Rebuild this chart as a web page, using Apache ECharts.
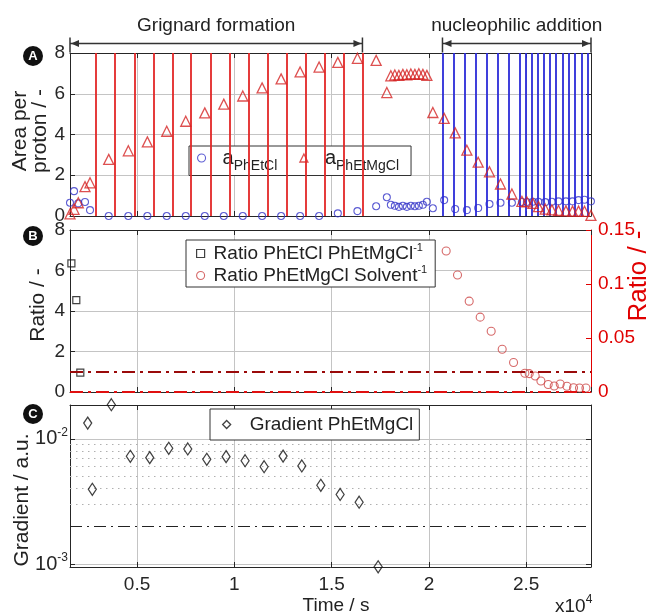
<!DOCTYPE html>
<html><head><meta charset="utf-8">
<script src="https://cdn.jsdelivr.net/npm/echarts@6/dist/echarts.min.js"></script>
<style>html,body{margin:0;padding:0;background:#fff}#c{width:646px;height:614px}</style>
</head><body><div id="c"></div>
<script>
// ---------------- data ----------------
const X_MIN = 1555, X_MAX = 28330;
// Panel A: sampling times (s) and areas per proton
const timeA = [1555,1761,1982,2326,2584,
  3545,4553,5530,6527,7504,8481,9458,10434,11427,12404,13380,14357,15319,16326,17288,
  17838,
  18044,18249,18455,18661,18866,19072,19278,19483,19689,19895,
  20203,20784,21350,21951,22532,23113,23679,24265,24779,25036,25344,25632,25977,26321,26661,27041,27380,27689,27997,28326];
const areaPhEtMgCl = [0.1,0.33,0.65,1.44,1.63,
  2.78,3.2,3.64,4.16,4.65,5.06,5.49,5.89,6.29,6.73,7.07,7.31,7.54,7.74,7.64,
  6.06,
  6.88,6.92,6.9,6.95,6.93,6.97,6.95,6.98,6.95,6.9,
  5.08,4.79,4.08,3.23,2.64,2.17,1.57,1.08,0.72,0.69,0.62,0.46,0.34,0.3,0.27,0.25,0.24,0.24,0.23,0.03];
const areaPhEtCl = [0.65,1.22,0.62,0.69,0.29,
  0,0,0,0,0,0,0,0,0,0,0,0,0.13,0.24,0.48,
  0.92,
  0.55,0.5,0.45,0.5,0.45,0.5,0.48,0.5,0.55,0.7,
  0.38,0.78,0.34,0.29,0.39,0.59,0.65,0.65,0.69,0.69,0.7,0.7,0.68,0.7,0.72,0.72,0.72,0.78,0.8,0.72];
// vertical event lines
const grignardLines = [2892,3869,4861,5838,6815,7776,8769,9746,10722,11699,12697,13674,14666,15607,16584];
const additionLines = [20697,21262,21828,22404,22980,23560,24126,24692,24985,25293,25581,25889,26234,26542,26866,27195,27519,27843,28172];
// Panel B
const timeRatioCl = [1627,1879,2085];
const ratioPhEtCl = [6.35,4.54,0.96];
const timeRatioSolv = [20887,21470,22070,22635,23200,23766,24350,24933,25154,25463,25756,26130,26440,26748,27093,27432,27740,28069];
const ratioSolvent = [0.1305,0.1083,0.0841,0.0693,0.0563,0.0396,0.0273,0.0173,0.017,0.0148,0.0102,0.0069,0.0056,0.0074,0.0053,0.004,0.0037,0.0037];
const ratioThresholdLeft = 1;
const ratioThresholdRight = 0;
// Panel C
const timeGrad = [2465,2702,3679,4655,5653,6630,7607,8584,9576,10553,11530,12506,13468,14445,15437,16414,17391];
const gradient = [0.0134,0.00396,0.0188,0.00727,0.00709,0.00843,0.00832,0.00688,0.00722,0.0067,0.006,0.0073,0.00608,0.00426,0.0036,0.00312,0.00095];
const gradThreshold = 0.002;
const gradMinorLines = [0.003,0.004,0.005,0.006,0.007,0.008,0.009];
const C_MIN = 0.000946, C_MAX = 0.0187;

// ---------------- style ----------------
const FONT = '"Liberation Sans", Arial, Helvetica, sans-serif';
const AX = '#262626';
const GRIDC = '#c4c4c4';
const BLUE = '#3434c8', RED = '#d42424';
const pair = (xs, ys) => xs.map((x, i) => [x, ys[i]]);

const grids = [
  {left:70, top:53, width:521, height:163},
  {left:70, top:230, width:521, height:162},
  {left:70, top:405, width:521, height:162}
];
function xAx(g, pos, labels) {
  return {type:'value', gridIndex:g, position:pos, min:X_MIN, max:X_MAX,
    axisLine:{show:true, onZero:false, lineStyle:{color:AX, width:1}},
    axisTick:{show:true, inside:true, length:5, lineStyle:{color:AX}},
    axisLabel:{show:labels, margin:8, fontSize:19, color:AX, fontFamily:FONT,
      showMinLabel:false, showMaxLabel:false,
      formatter: v => (Math.abs(v % 5000) < 1e-6 ? String(v/1e4) : '')},
    splitLine:{show: pos === 'bottom', lineStyle:{color:GRIDC, width:1, type:'solid', opacity:1}}};
}
function yLin(g, pos, labels, max, interval, color, split) {
  return {type:'value', gridIndex:g, position:pos, min:0, max:max, interval:interval,
    axisLine:{show:true, onZero:false, lineStyle:{color:color, width:1}},
    axisTick:{show:true, inside:true, length:5, lineStyle:{color:color}},
    axisLabel:{show:labels, margin:pos==='left'?5:7, fontSize:19, color:color, fontFamily:FONT},
    splitLine:{show:split, lineStyle:{color:GRIDC, width:1, type:'solid', opacity:1}}};
}
function yLog(g, pos, labels) {
  return {type:'log', logBase:10, gridIndex:g, position:pos, min:C_MIN, max:C_MAX,
    axisLine:{show:true, onZero:false, lineStyle:{color:AX, width:1}},
    axisTick:{show:true, inside:true, length:5, lineStyle:{color:AX}},
    axisLabel:{show:labels, margin:2, color:AX, fontFamily:FONT,
      formatter: v => { const l = Math.log10(v), r = Math.round(l);
        return Math.abs(l - r) < 1e-6 ? '{b|10}{s|' + r + '}' : ''; },
      rich:{b:{fontSize:20, color:AX, fontFamily:FONT}, s:{fontSize:12, color:AX, fontFamily:FONT, padding:[0,0,12,0]}}},
    splitLine:{show: pos === 'left', lineStyle:{color:GRIDC, width:1, type:'solid', opacity:1}}};
}
const hollow = (c, w) => ({color:'rgba(0,0,0,0)', borderColor:c, borderWidth:w});

const legendBase = {backgroundColor:'#fff', borderColor:'#333', borderWidth:1, borderRadius:0,
  itemWidth:8, itemHeight:8, selectedMode:false, textStyle:{fontFamily:FONT, fontSize:19, color:'#222'}};

// horizontal reference lines in panel C (drawn through the log axis)
const hLine = (v, style) => [{coord:[X_MIN, v], lineStyle:style}, {coord:[X_MAX, v]}];
const minorStyle = {color:'#b0b0b0', width:1, type:[1.5,4.5]};
const thrStyle = {color:'#222', width:1, type:[12,5,2,5]};

const option = {
  animation:false,
  textStyle:{fontFamily:FONT},
  grid: grids,
  xAxis:[xAx(0,'bottom',false), xAx(0,'top',false), xAx(1,'bottom',false), xAx(1,'top',false), xAx(2,'bottom',true), xAx(2,'top',false)],
  yAxis:[yLin(0,'left',true,8,2,AX,true), yLin(0,'right',false,8,2,AX,false),
         yLin(1,'left',true,8,2,AX,true), yLin(1,'right',true,0.15,0.05,'#e00000',false),
         yLog(2,'left',true), yLog(2,'right',false)],
  legend:[
    Object.assign({}, legendBase, {left:189, top:146, orient:'horizontal', itemGap:22, padding:[2,12,2,8],
      data:[{name:'a_PhEtCl', icon:'circle', itemStyle:hollow(BLUE,1.1)}, {name:'a_PhEtMgCl', icon:'triangle', itemStyle:hollow(RED,1.3)}],
      formatter: n => n === 'a_PhEtCl' ? '{a|a}{s|PhEtCl}' : '{a|a}{s|PhEtMgCl}',
      textStyle:{fontFamily:FONT, color:'#222', rich:{a:{fontSize:20, color:'#222', fontFamily:FONT, padding:[0,0,0,12]}, s:{fontSize:14, color:'#222', fontFamily:FONT, padding:[17,0,0,0]}}}}),
    Object.assign({}, legendBase, {left:186, top:240, orient:'vertical', itemGap:1, padding:[2,8,2,10],
      data:[{name:'ratioCl', icon:'rect', itemStyle:hollow('#111',1.2)}, {name:'ratioSolv', icon:'circle', itemStyle:hollow('#cc4444',1.1)}],
      formatter: n => n === 'ratioCl' ? '{t|Ratio PhEtCl PhEtMgCl}{s|-1}' : '{t|Ratio PhEtMgCl Solvent}{s|-1}',
      textStyle:{fontFamily:FONT, color:'#222', rich:{t:{fontSize:19, color:'#222', fontFamily:FONT, padding:[0,0,0,4]}, s:{fontSize:11, color:'#222', fontFamily:FONT, padding:[0,0,12,0]}}}}),
    Object.assign({}, legendBase, {left:210, top:409, orient:'horizontal', padding:[6,6,6,12],
      data:[{name:'grad', icon:'diamond', itemStyle:hollow('#111',1.3)}],
      formatter: () => '{t|Gradient PhEtMgCl}',
      textStyle:{fontFamily:FONT, color:'#222', rich:{t:{fontSize:19, color:'#222', fontFamily:FONT, padding:[0,0,0,14]}}}})
  ],
  series:[
    // event lines panel A
    {type:'scatter', name:'redLines', xAxisIndex:0, yAxisIndex:0, data:[], z:1, silent:true,
      markLine:{silent:true, symbol:['none','none'], label:{show:false}, animation:false,
        lineStyle:{color:'#e32626', width:1.8, type:'solid'}, data: grignardLines.map(v => ({xAxis:v}))}},
    {type:'scatter', name:'blueLines', xAxisIndex:0, yAxisIndex:0, data:[], z:1, silent:true,
      markLine:{silent:true, symbol:['none','none'], label:{show:false}, animation:false,
        lineStyle:{color:'#2b2bd8', width:1.8, type:'solid'}, data: additionLines.map(v => ({xAxis:v}))}},
    {type:'scatter', name:'a_PhEtCl', xAxisIndex:0, yAxisIndex:0, symbol:'circle', symbolSize:7, clip:false, z:4,
      itemStyle:hollow(BLUE,1.1), data: pair(timeA, areaPhEtCl)},
    {type:'scatter', name:'a_PhEtMgCl', xAxisIndex:0, yAxisIndex:0, symbol:'triangle', symbolSize:10, clip:false, z:5,
      itemStyle:hollow(RED,1.3), data: pair(timeA, areaPhEtMgCl)},
    // panel B
    {type:'scatter', name:'thrLeft', xAxisIndex:2, yAxisIndex:2, data:[], z:2, silent:true,
      markLine:{silent:true, symbol:['none','none'], label:{show:false}, animation:false,
        lineStyle:{color:'#9a0a0a', width:2, type:[13,5,3,5]}, data:[{yAxis:ratioThresholdLeft}]}},
    {type:'scatter', name:'thrRight', xAxisIndex:2, yAxisIndex:3, data:[], z:2, silent:true,
      markLine:{silent:true, symbol:['none','none'], label:{show:false}, animation:false,
        lineStyle:{color:'#e01010', width:2, type:[13,5,3,5]}, data:[{yAxis:ratioThresholdRight}]}},
    {type:'scatter', name:'ratioCl', xAxisIndex:2, yAxisIndex:2, symbol:'rect', symbolSize:7, clip:false, z:4,
      itemStyle:hollow('#111',1.2), data: pair(timeRatioCl, ratioPhEtCl)},
    {type:'scatter', name:'ratioSolv', xAxisIndex:2, yAxisIndex:3, symbol:'circle', symbolSize:8, clip:false, z:4,
      itemStyle:hollow('#cc4444',1.1), data: pair(timeRatioSolv, ratioSolvent)},
    // panel C
    {type:'scatter', name:'grad', xAxisIndex:4, yAxisIndex:4, symbol:'diamond', symbolSize:[8,12], clip:false, z:4,
      itemStyle:hollow('#111',1.3), data: pair(timeGrad, gradient),
      markLine:{silent:true, symbol:['none','none'], label:{show:false}, animation:false, z:1,
        data: gradMinorLines.map(v => hLine(v, minorStyle)).concat([hLine(gradThreshold, thrStyle)])}}
  ]
};

const chart = echarts.init(document.getElementById('c'), null, {renderer:'canvas'});
chart.setOption(option);

// ---------------- annotations ----------------
function px(v, grid) { return chart.convertToPixel({xAxisIndex:grid*2}, v); }
const badge = (letter, cy) => ({type:'group', x:33, y:cy, children:[
  {type:'circle', shape:{cx:0, cy:0, r:10}, style:{fill:'#111'}},
  {type:'text', x:0, y:0, style:{text:letter, fill:'#fff', font:'bold 13px ' + FONT, textAlign:'center', textVerticalAlign:'middle'}}]});
const vtext = (t, x, y, color, size) => ({type:'text', x:x, y:y, rotation:Math.PI/2,
  style:{text:t, fill:color, font:size + 'px ' + FONT, textAlign:'center', textVerticalAlign:'middle', lineHeight:20}});
function arrow(x1, x2, y) {
  const c = '#333';
  return {type:'group', children:[
    {type:'line', shape:{x1:x1, y1:y, x2:x2, y2:y}, style:{stroke:c, lineWidth:1.5}},
    {type:'line', shape:{x1:x1, y1:y-6, x2:x1, y2:y+9}, style:{stroke:c, lineWidth:1.5}},
    {type:'line', shape:{x1:x2, y1:y-6, x2:x2, y2:y+9}, style:{stroke:c, lineWidth:1.5}},
    {type:'polygon', shape:{points:[[x1+1,y],[x1+9,y-3.5],[x1+9,y+3.5]]}, style:{fill:c}},
    {type:'polygon', shape:{points:[[x2-1,y],[x2-9,y-3.5],[x2-9,y+3.5]]}, style:{fill:c}}]};
}
const gA0 = px(X_MIN, 0), gA1 = px(grignardLines[grignardLines.length-1], 0);
const nA0 = px(additionLines[0], 0), nA1 = px(X_MAX, 0);
chart.setOption({graphic:[
  badge('A', 56), badge('B', 236), badge('C', 414),
  vtext('Area per\nproton / -', 30, 131, '#222', 21),
  vtext('Ratio / -', 38, 305, '#222', 21),
  vtext('Gradient / a.u.', 22, 500, '#222', 21),
  vtext('Ratio / -', 639, 276, '#e00000', 26),
  {type:'text', x:336, y:606, style:{text:'Time / s', fill:'#222', font:'19px ' + FONT, textAlign:'center', textVerticalAlign:'middle'}},
  {type:'text', x:555, y:607, style:{text:'{b|x10}{s|4}', fill:'#222', textVerticalAlign:'middle',
    rich:{b:{fontSize:19, fontFamily:FONT, color:'#222'}, s:{fontSize:12, fontFamily:FONT, color:'#222', padding:[0,0,14,0]}}}},
  {type:'text', x:(gA0+gA1)/2, y:26, style:{text:'Grignard formation', fill:'#222', font:'19px ' + FONT, textAlign:'center', textVerticalAlign:'middle'}},
  {type:'text', x:(nA0+nA1)/2, y:26, style:{text:'nucleophilic addition', fill:'#222', font:'19px ' + FONT, textAlign:'center', textVerticalAlign:'middle'}},
  arrow(gA0, gA1, 43.5), arrow(nA0, nA1, 43.5)
]});
</script></body></html>
